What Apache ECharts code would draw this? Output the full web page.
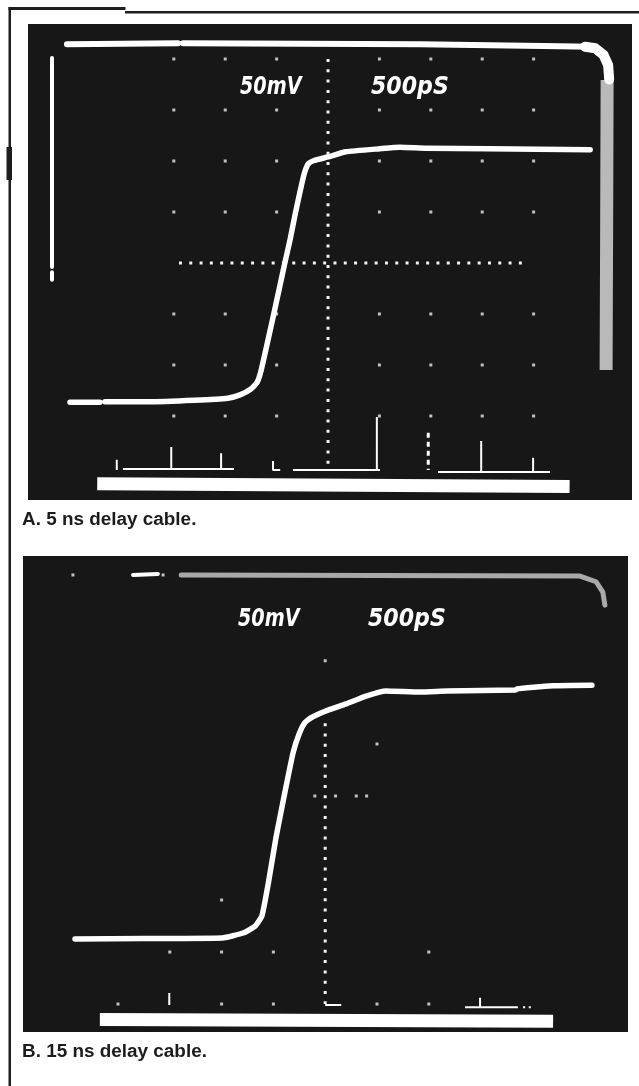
<!DOCTYPE html>
<html>
<head>
<meta charset="utf-8">
<title>Delay cable step response</title>
<script src="https://cdn.jsdelivr.net/npm/echarts@6.0.0/dist/echarts.min.js"></script>
<style>
  html, body { margin: 0; padding: 0; background: #fff; }
  #chart { width: 639px; height: 1086px; }
</style>
</head>
<body>
<div id="chart"></div>
<script>
// scope graticule units: x in divisions (500 ps/div), y in divisions (50 mV/div)

// A. 5 ns delay cable
var traceA_t = [-0.02, 0.56, null, 0.66, 1.5, 2.4, 3.05, 3.3, 3.5, 3.62, 3.7, 3.89, 4.07, 4.16, 4.26, 4.36, 4.46, 4.54, 4.62, 4.73, 5.0, 5.35, 6.01, 6.4, 6.91, 8.11, 10.1]
var traceA_v = [1.27, 1.27, null, 1.28, 1.28, 1.31, 1.35, 1.42, 1.53, 1.66, 1.9, 2.75, 3.58, 4.0, 4.45, 4.95, 5.42, 5.76, 5.95, 6.01, 6.08, 6.18, 6.24, 6.27, 6.25, 6.24, 6.22]
var frameA_t = [-0.08, 2.08, null, 2.18, 6.79, 9.51, 10.1]
var frameA_v = [8.29, 8.31, null, 8.31, 8.29, 8.25, 8.24]
var cornerA_t = [10.0, 10.2, 10.36, 10.45, 10.47]
var cornerA_v = [8.24, 8.21, 8.08, 7.88, 7.6]
var glowA_t = [10.43, 10.42, 10.41]
var glowA_v = [7.59, 4.5, 1.9]
var leftA_t = [-0.37, -0.37, null, -0.37, -0.37]
var leftA_v = [8.02, 3.92, null, 3.82, 3.67]
var barA_t = [0.51, 9.7]
var barA_v = [-0.33, -0.38]
var markA_t = [1.01, 3.17, null, 0.89, 0.89, null, 1.95, 1.95, null, 2.92, 2.92, null, 3.93, 3.93, 4.07, null, 4.32, 6.01, null, 5.95, 5.95, null, 7.14, 9.32, null, 7.98, 7.98, null, 8.99, 8.99]
var markA_v = [-0.04, -0.04, null, 0.14, -0.06, null, 0.39, -0.04, null, 0.27, -0.04, null, 0.12, -0.06, -0.06, null, -0.06, -0.06, null, 0.98, -0.06, null, -0.1, -0.1, null, 0.51, -0.1, null, 0.18, -0.1]
var dashA_t = [6.95, 6.95]
var dashA_v = [0.67, -0.06]
var gratCols = [2, 3, 4, 6, 7, 8, 9]
var gratRows = [1, 2, 3, 5, 6, 7, 8]

// B. 15 ns delay cable
var traceB_t = [0.17, 1.5, 3.01, 3.43, 3.65, 3.78, 3.9, 4.05, 4.22, 4.38, 4.5, 4.6, 4.72, 5.0, 5.4, 5.79, 6.17, 6.83, 7.35, 8.68, 8.7, 9.4, 10.15]
var traceB_v = [1.25, 1.26, 1.27, 1.37, 1.5, 1.7, 2.31, 3.2, 4.06, 4.83, 5.2, 5.4, 5.5, 5.63, 5.77, 5.92, 6.02, 6.0, 6.02, 6.04, 6.06, 6.12, 6.13]
var frameB_t = [2.22, 6.0, 9.92, 10.23, 10.36, 10.4]
var frameB_v = [8.25, 8.24, 8.23, 8.12, 7.92, 7.67]
var dashB_t = [1.29, 1.77]
var dashB_v = [8.25, 8.27]
var barB_t = [0.65, 9.4]
var barB_v = [-0.3, -0.33]
var markB_t = [1.99, 1.99, null, 7.99, 7.99, null, 7.7, 8.72, null, 8.82, 8.86, null, 8.93, 8.97, null, 5.0, 5.31]
var markB_v = [0.21, -0.02, null, 0.12, -0.06, null, -0.06, -0.06, null, -0.06, -0.06, null, -0.06, -0.06, null, -0.02, -0.02]
var gratB_t = [2, 3, 4, 7, 1, 3, 4, 6, 7, 3, 6, 5, 4.8, 5.2, 5.6, 5.8, 0.13, 1.87]
var gratB_v = [1, 1, 1, 1, 0, 0, 0, 0, 0, 2, 5, 6.6, 4, 4, 4, 4, 8.25, 8.25]

var labelVolts = '50mV'
var labelTime = '500pS'
var captionA = 'A. 5 ns delay cable.'
var captionB = 'B. 15 ns delay cable.'

function pts (t, v) {
  return t.map(function (x, i) {
    return (x === null || v[i] === null) ? ['-', '-'] : [x, v[i]]
  })
}

function line (gi, t, v, width, color, extra) {
  var s = {
    type: 'line',
    xAxisIndex: gi,
    yAxisIndex: gi,
    data: pts(t, v),
    symbol: 'none',
    connectNulls: false,
    silent: true,
    lineStyle: { width: width, color: color, cap: 'round', join: 'round' }
  }
  for (var k in extra) s[k] = extra[k]
  return s
}

function dots (gi, t, v) {
  return {
    type: 'scatter',
    xAxisIndex: gi,
    yAxisIndex: gi,
    data: pts(t, v),
    symbol: 'rect',
    symbolSize: 3,
    silent: true,
    itemStyle: { color: '#ececec' }
  }
}

var gridA_t = []
var gridA_v = []
gratCols.forEach(function (c) {
  gratRows.forEach(function (r) {
    gridA_t.push(c)
    gridA_v.push(r)
  })
})

var dotted = { type: [3, 7.3], width: 3, color: '#f2f2f2', cap: 'butt' }
var thin = { width: 2, color: '#fff', cap: 'butt' }
var slab = { width: 13, color: '#fff', cap: 'butt' }

var option = {
  animation: false,
  backgroundColor: '#fff',
  grid: [
    { left: 28, top: 24, width: 604, height: 476, show: true, backgroundColor: '#171717', borderWidth: 0 },
    { left: 23, top: 556, width: 605, height: 476, show: true, backgroundColor: '#171717', borderWidth: 0 }
  ],
  xAxis: [
    { gridIndex: 0, type: 'value', min: -0.837, max: 10.914, show: false },
    { gridIndex: 1, type: 'value', min: -0.834, max: 10.846, show: false }
  ],
  yAxis: [
    { gridIndex: 0, type: 'value', min: -0.647, max: 8.686, show: false },
    { gridIndex: 1, type: 'value', min: -0.538, max: 8.615, show: false }
  ],
  series: [
    dots(0, gridA_t, gridA_v),
    line(0, [5, 5], [8, -0.06], 3, '#fff', { lineStyle: dotted }),
    line(0, [2.1, 8.9], [4, 4], 3, '#fff', { lineStyle: dotted }),
    line(0, glowA_t, glowA_v, 13, '#b9b9b9', { lineStyle: { width: 13, color: '#b9b9b9', cap: 'butt' } }),
    line(0, frameA_t, frameA_v, 6, '#fff'),
    line(0, cornerA_t, cornerA_v, 10, '#fff'),
    line(0, leftA_t, leftA_v, 4, '#fff'),
    line(0, markA_t, markA_v, 2, '#fff', { lineStyle: thin }),
    line(0, dashA_t, dashA_v, 3, '#fff', { lineStyle: { width: 3, color: '#fff', type: [5, 4], cap: 'butt' } }),
    line(0, barA_t, barA_v, 13, '#fff', { lineStyle: slab }),
    line(0, traceA_t, traceA_v, 5.5, '#fff', { smooth: 0.15 }),

    dots(1, gratB_t, gratB_v),
    line(1, [5, 5], [5.4, 0.0], 3, '#fff', { lineStyle: dotted }),
    line(1, frameB_t, frameB_v, 5, '#a9a9a9'),
    line(1, dashB_t, dashB_v, 4, '#fff'),
    line(1, markB_t, markB_v, 2, '#fff', { lineStyle: thin }),
    line(1, barB_t, barB_v, 13, '#fff', { lineStyle: slab }),
    line(1, traceB_t, traceB_v, 5.5, '#fff', { smooth: 0.15 })
  ],
  graphic: [
    // page frame
    { type: 'rect', shape: { x: 8.5, y: 7, width: 2.5, height: 1079 }, style: { fill: '#1e1e1e' } },
    { type: 'rect', shape: { x: 6.5, y: 147, width: 5.5, height: 33 }, style: { fill: '#1e1e1e' } },
    { type: 'rect', shape: { x: 8.5, y: 7, width: 117, height: 3 }, style: { fill: '#1e1e1e' } },
    { type: 'rect', shape: { x: 125, y: 11, width: 514, height: 2.5 }, style: { fill: '#1e1e1e' } },
    // scope readouts
    { type: 'text', x: 240, y: 88, scaleX: 0.8, style: { text: labelVolts, font: 'italic bold 24px "DejaVu Sans"', fill: '#fff', verticalAlign: 'middle' } },
    { type: 'text', x: 371, y: 88, scaleX: 0.92, style: { text: labelTime, font: 'italic bold 24px "DejaVu Sans"', fill: '#fff', verticalAlign: 'middle' } },
    { type: 'text', x: 238, y: 620, scaleX: 0.8, style: { text: labelVolts, font: 'italic bold 24px "DejaVu Sans"', fill: '#fff', verticalAlign: 'middle' } },
    { type: 'text', x: 368, y: 620, scaleX: 0.92, style: { text: labelTime, font: 'italic bold 24px "DejaVu Sans"', fill: '#fff', verticalAlign: 'middle' } },
    // captions
    { type: 'text', x: 22, y: 520, scaleX: 1.05, style: { text: captionA, font: 'bold 18px "Liberation Sans"', fill: '#1c1c1c', verticalAlign: 'middle' } },
    { type: 'text', x: 22, y: 1052, scaleX: 1.05, style: { text: captionB, font: 'bold 18px "Liberation Sans"', fill: '#1c1c1c', verticalAlign: 'middle' } }
  ]
}

var chart = echarts.init(document.getElementById('chart'))
chart.setOption(option)
</script>
</body>
</html>
